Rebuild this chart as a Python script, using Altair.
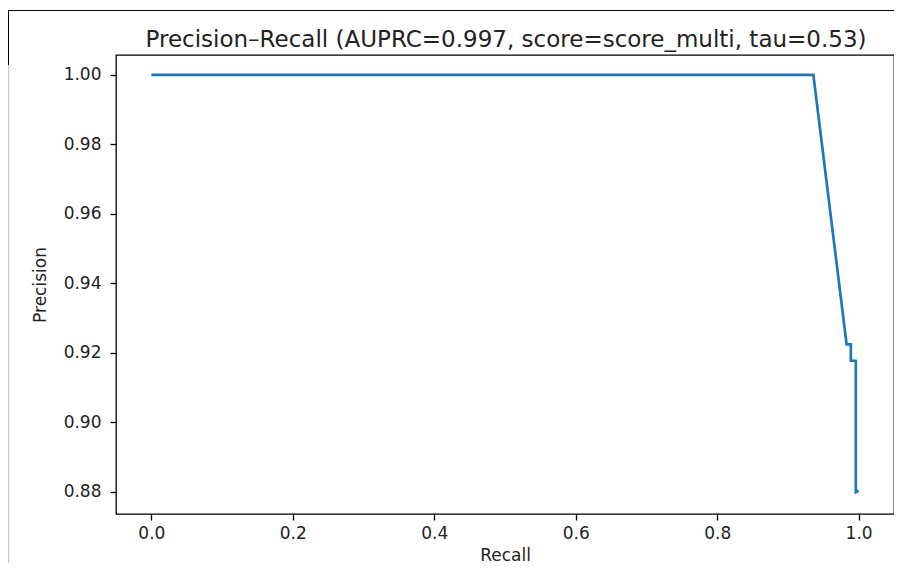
import altair as alt
import pandas as pd

# Precision-recall curve points
recall = [0.0, 0.936, 0.983, 0.989, 0.989, 0.996, 0.996, 1.0]
precision = [1.0, 1.0, 0.9224, 0.9224, 0.9177, 0.9177, 0.8799, 0.8803]
x_ticks = [0.0, 0.2, 0.4, 0.6, 0.8, 1.0]
y_ticks = [0.88, 0.90, 0.92, 0.94, 0.96, 0.98, 1.00]
title_text = "Precision\u2013Recall (AUPRC=0.997, score=score_multi, tau=0.53)"

df = pd.DataFrame({"recall": recall, "precision": precision, "order": list(range(len(recall)))})

FONT = "DejaVu Sans"

line = alt.Chart(df).mark_line(color="#1f77b4", strokeWidth=2.7, clip=True).encode(
    x=alt.X(
        "recall:Q",
        scale=alt.Scale(domain=[-0.05, 1.05], nice=False, zero=False),
        axis=alt.Axis(
            values=x_ticks, format=".1f", title="Recall", grid=False, domain=False,
            tickSize=6, tickColor="black", tickWidth=1.3, labelPadding=5,
            labelFont=FONT, labelFontSize=17, labelColor="#222",
            titleFont=FONT, titleFontSize=17, titleFontWeight="normal", titleColor="#222",
            titlePadding=6,
        ),
    ),
    y=alt.Y(
        "precision:Q",
        scale=alt.Scale(domain=[0.8736, 1.0057], nice=False, zero=False),
        axis=alt.Axis(
            values=y_ticks, format=".2f", title="Precision", grid=False, domain=False,
            tickSize=6, tickColor="black", tickWidth=1.3, labelPadding=9,
            labelFont=FONT, labelFontSize=17, labelColor="#222",
            titleFont=FONT, titleFontSize=17, titleFontWeight="normal", titleColor="#222",
            titlePadding=14,
        ),
    ),
    order="order:O",
)

title_df = pd.DataFrame({"t": [title_text]})
title_mark = alt.Chart(title_df).mark_text(
    font=FONT, fontSize=23, color="#222", align="center", baseline="alphabetic"
).encode(text="t:N", x=alt.value(390), y=alt.value(-8.5))

frame_df = pd.DataFrame({"k": [0]})
top_line = alt.Chart(frame_df).mark_rule(color="black", strokeWidth=1).encode(
    x=alt.value(-108), x2=alt.value(778), y=alt.value(-44.5)
)
left_dark = alt.Chart(frame_df).mark_rule(color="black", strokeWidth=1).encode(
    x=alt.value(-107.5), y=alt.value(-45), y2=alt.value(10)
)
left_gray = alt.Chart(frame_df).mark_rule(color="#bbbbbb", strokeWidth=1).encode(
    x=alt.value(-107.3), y=alt.value(10), y2=alt.value(508)
)

chart = alt.layer(line, title_mark, top_line, left_dark, left_gray).properties(
    width=778,
    height=459,
    padding={"left": 108, "top": 47, "right": 0, "bottom": 50},
    autosize="none",
    background="white",
).configure_view(stroke="black", strokeWidth=1.3)

chart.save("out.html", embed_options={"renderer": "svg", "actions": False})
